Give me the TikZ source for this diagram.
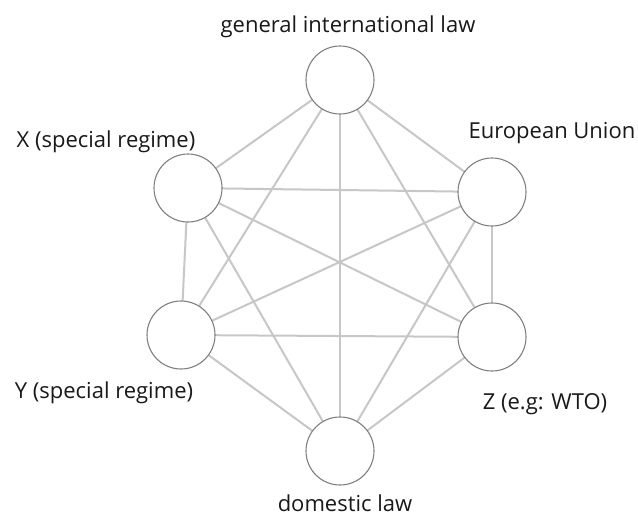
\documentclass[tikz,border=0pt]{standalone}
\usepackage{fontspec}
\setmainfont{Open Sans}
\begin{document}
\begin{tikzpicture}[x=1pt,y=-1pt,
  regime/.style={circle,draw=black!50,line width=1.1pt,fill=white,minimum size=68pt,inner sep=0pt},
  link/.style={draw=black!22,line width=2pt},
  lbl/.style={font=\fontsize{22}{26}\selectfont,text=black!90,inner sep=0pt,anchor=base}]
\useasboundingbox (0,0) rectangle (638,520);
\fill[white] (0,0) rectangle (638,520);
\coordinate (pT) at (340,80);
\coordinate (pX) at (188,188);
\coordinate (pE) at (492,192);
\coordinate (pY) at (181,335);
\coordinate (pZ) at (492,337);
\coordinate (pD) at (340,451);
\foreach \a/\b in {T/X,T/E,T/Y,T/Z,T/D,X/E,X/Y,X/Z,X/D,E/Y,E/Z,E/D,Y/Z,Y/D,Z/D}
  \draw[link] (p\a) -- (p\b);
\node[regime] (T) at (pT) {};
\node[regime] (X) at (pX) {};
\node[regime] (E) at (pE) {};
\node[regime] (Y) at (pY) {};
\node[regime] (Z) at (pZ) {};
\node[regime] (D) at (pD) {};
\node[lbl] (lT) at (348,32) {general international law};
\node[lbl] (lX) at (106,147) {X (special regime)};
\node[lbl] (lE) at (552,138) {European Union};
\node[lbl] (lY) at (104,398) {Y (special regime)};
\node[lbl] (lZ) at (545,409) {Z (e.g: WTO)};
\node[lbl] (lD) at (345,511) {domestic law};
\end{tikzpicture}
\end{document}
